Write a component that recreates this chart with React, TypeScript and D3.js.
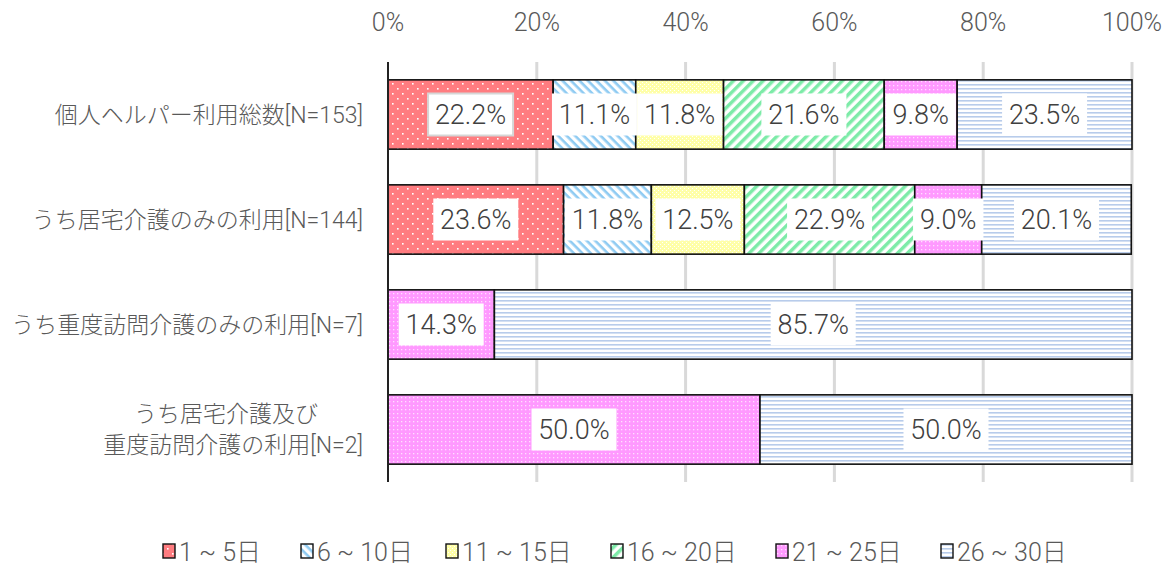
import * as d3 from 'd3'

const categories = [
  ['個人ヘルパー利用総数[N=153]'],
  ['うち居宅介護のみの利用[N=144]'],
  ['うち重度訪問介護のみの利用[N=7]'],
  ['うち居宅介護及び', '重度訪問介護の利用[N=2]'],
]
const seriesNames = ['1 ~ 5日', '6 ~ 10日', '11 ~ 15日', '16 ~ 20日', '21 ~ 25日', '26 ~ 30日']
const d1to5 = [22.2, 23.6, 0, 0]
const d6to10 = [11.1, 11.8, 0, 0]
const d11to15 = [11.8, 12.5, 0, 0]
const d16to20 = [21.6, 22.9, 0, 0]
const d21to25 = [9.8, 9.0, 14.3, 50.0]
const d26to30 = [23.5, 20.1, 85.7, 50.0]
const tickValues = [0, 20, 40, 60, 80, 100]

const series = [d1to5, d6to10, d11to15, d16to20, d21to25, d26to30]
const fills = ['url(#p0)', 'url(#p1)', 'url(#p2)', 'url(#p3)', 'url(#p4)', 'url(#p5)']

const W = 1176
const H = 569
const left = 388
const right = 1132
const top = 62
const bottom = 482
const font = 'Roboto, "Noto Sans CJK JP", sans-serif'
const textColor = '#595959'

export default function App() {
  const x = d3.scaleLinear().domain([0, 100]).range([left, right])
  const y = d3.scaleBand().domain(categories.map((_, i) => String(i))).range([top, bottom]).paddingInner(0.34).paddingOuter(0.17)
  const bh = y.bandwidth()

  const rows = categories.map((_, ci) => {
    let acc = 0
    return series.map((s, si) => {
      const v = s[ci]
      const seg = { si, x0: acc, x1: acc + v, v }
      acc += v
      return seg
    }).filter((d) => d.v > 0)
  })

  return (
    <svg width={W} height={H} style={{ position: 'absolute', left: 0, top: 0, background: '#fff' }}>
      <defs>
        <pattern id="p0" width="10" height="10" patternUnits="userSpaceOnUse">
          <rect width="10" height="10" fill="#FF7C80" />
          <rect x="2" y="3" width="1.6" height="1.6" fill="#fff" />
          <rect x="7" y="8" width="1.6" height="1.6" fill="#fff" />
        </pattern>
        <pattern id="p1" width="6" height="6" patternUnits="userSpaceOnUse" patternTransform="rotate(45)">
          <rect width="6" height="6" fill="#fff" />
          <rect width="6" height="2.6" fill="#8FCBF2" />
        </pattern>
        <pattern id="p2" width="4" height="4" patternUnits="userSpaceOnUse">
          <rect width="4" height="4" fill="#FFFFA8" />
          <rect x="0" y="0" width="1" height="1" fill="#fff" />
          <rect x="2" y="2" width="1" height="1" fill="#fff" />
        </pattern>
        <pattern id="p3" width="7" height="7" patternUnits="userSpaceOnUse" patternTransform="rotate(-45)">
          <rect width="7" height="7" fill="#fff" />
          <rect width="7" height="3.5" fill="#7DEBA8" />
        </pattern>
        <pattern id="p4" width="4" height="4" patternUnits="userSpaceOnUse">
          <rect width="4" height="4" fill="#FF99FF" />
          <rect x="1" y="1" width="1.3" height="1.3" fill="#FFE0FF" />
        </pattern>
        <pattern id="p5" width="4" height="4" patternUnits="userSpaceOnUse">
          <rect width="4" height="4" fill="#fff" />
          <rect width="4" height="1.6" fill="#B8CCEB" />
        </pattern>
      </defs>

      {tickValues.map((t) => (
        <g key={t}>
          {t > 0 && <line x1={x(t)} x2={x(t)} y1={top} y2={bottom} stroke="#d9d9d9" strokeWidth={3} />}
          <text x={x(t)} y={31} textAnchor="middle" fontFamily={font} fontSize={25} fill={textColor} fontWeight={300}>{t}%</text>
        </g>
      ))}

      {rows.map((segs, ci) => (
        <g key={ci}>
          {segs.map((d) => (
            <rect key={d.si} x={x(d.x0)} y={y(String(ci))} width={x(d.x1) - x(d.x0)} height={bh} fill={fills[d.si]} stroke="#111" strokeWidth={1.6} />
          ))}
        </g>
      ))}

      <line x1={left} x2={left} y1={top} y2={bottom} stroke="#222" strokeWidth={2} />

      {rows.map((segs, ci) => (
        <g key={'l' + ci}>
          {segs.map((d) => {
            const label = d.v.toFixed(1) + '%'
            const cx = (x(d.x0) + x(d.x1)) / 2
            const cy = y(String(ci))! + bh / 2
            const bw = label.length * 14.6 + 12
            return (
              <g key={d.si}>
                <rect x={cx - bw / 2} y={cy - 21} width={bw} height={42} fill="#fff" stroke={ci === 0 && d.si === 0 ? '#d6d6d6' : 'none'} strokeWidth={2} />
                <text x={cx} y={cy + 9.5} textAnchor="middle" fontFamily={font} fontSize={27} fill="#404040" fontWeight={300}>{label}</text>
              </g>
            )
          })}
        </g>
      ))}

      {categories.map((lines, ci) => {
        const cy = y(String(ci))! + bh / 2
        return (
          <text key={ci} textAnchor="end" fontFamily={font} fontSize={23} fill={textColor} fontWeight={300}>
            {lines.map((ln, li) => (
              <tspan key={li} x={lines.length > 1 && li === 0 ? 318 : 363} y={cy + 8 + (li - (lines.length - 1) / 2) * 31}>{ln}</tspan>
            ))}
          </text>
        )
      })}

      {seriesNames.map((name, si) => {
        const lx = [163, 301, 446, 611, 776, 941][si]
        return (
          <g key={name}>
            <rect x={lx} y={544} width={12} height={14} fill={fills[si]} stroke="#111" strokeWidth={1.4} />
            <text x={lx + 16} y={561} fontFamily={font} fontSize={25} fill={textColor} fontWeight={300}>{name}</text>
          </g>
        )
      })}
    </svg>
  )
}
